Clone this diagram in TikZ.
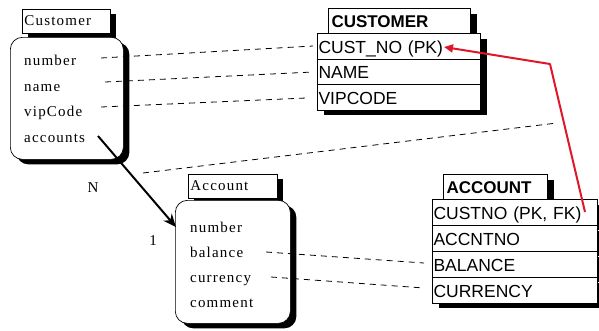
\documentclass[tikz,border=0pt]{standalone}
\usepackage{fontspec}
\setmainfont{Liberation Serif}
\newfontfamily\tabfont{Liberation Sans}
\newfontfamily\objfont[LetterSpace=8]{Liberation Serif}
\usetikzlibrary{arrows.meta,shadows}
\definecolor{fkred}{RGB}{222,24,40}
\tikzset{
  shd/.style={general shadow={fill=black, shadow xshift=6pt, shadow yshift=-5pt}},
  objtitle/.style={draw, fill=white, line width=0.8pt, anchor=north west, inner xsep=1.5pt,
    minimum height=24pt, font=\objfont\fontsize{15}{17}\selectfont, text height=11pt, text depth=3pt, shd},
  objbody/.style={draw, fill=white, line width=0.7pt, rounded corners=12pt, anchor=north west, shd},
  attr/.style={anchor=west, inner sep=0pt, text height=10pt, text depth=3pt, font=\objfont\fontsize{15}{17}\selectfont},
  tabtitle/.style={draw, fill=white, line width=1pt, anchor=north west, inner xsep=3pt,
    minimum height=25pt, font=\tabfont\bfseries\fontsize{17}{19}\selectfont, text height=13pt, text depth=1pt, shd},
  tabrow/.style={draw, fill=white, line width=1.1pt, anchor=north west, inner xsep=1pt,
    minimum height=25.5pt, font=\tabfont\fontsize{17.5}{19}\selectfont, text height=14pt, text depth=0pt, shd},
  dl/.style={line width=0.8pt, dash pattern=on 6pt off 5pt},
  lbl/.style={inner sep=0pt, font=\fontsize{15}{17}\selectfont},
}
\begin{document}
\begin{tikzpicture}[x=1pt,y=-1pt]
\useasboundingbox[fill=white] (0,0) rectangle (599,330);

% Customer object
\node[objtitle, minimum width=88pt, text width=84pt] (ctitle) at (22,9) {Customer};
\node[objbody, minimum width=113pt, minimum height=122pt] (cbody) at (10,37) {};
\node[attr] (cnum) at (24,62) {number};
\node[attr] (cname) at (24,88) {name};
\node[attr] (cvip) at (24,113) {vipCode};
\node[attr] (cacc) at (24,139) {accounts};

% Account object
\node[objtitle, minimum width=89pt, text width=85pt] (atitle) at (188,174) {Account};
\node[objbody, minimum width=115pt, minimum height=123pt] (abody) at (175,200) {};
\node[attr] (anum) at (190,229) {number};
\node[attr] (abal) at (190,254) {balance};
\node[attr] (acur) at (190,279) {currency};
\node[attr] (acom) at (190,304) {comment};

% CUSTOMER table
\node[tabtitle, minimum width=142pt, text width=136pt] (ttitle) at (328,8) {CUSTOMER};
\node[tabrow, minimum width=163pt, text width=161pt] (custno) at (317,33) {CUST\_NO (PK)};
\node[tabrow, minimum width=163pt, text width=161pt] (tname) at (317,58.5) {NAME};
\node[tabrow, minimum width=163pt, text width=161pt] (tvip) at (317,84) {VIPCODE};

% ACCOUNT table
\node[tabtitle, minimum width=104pt, text width=98pt] (atab) at (443,174) {ACCOUNT};
\node[tabrow, minimum width=165pt, text width=163pt] (custnofk) at (432,199) {CUSTNO (PK, FK)};
\node[tabrow, minimum width=165pt, text width=163pt] (accntno) at (432,225) {ACCNTNO};
\node[tabrow, minimum width=165pt, text width=163pt] (tbal) at (432,251) {BALANCE};
\node[tabrow, minimum width=165pt, text width=163pt] (tcur) at (432,277) {CURRENCY};

% labels
\node[lbl] (lN) at (93,188) {N};
\node[lbl] (l1) at (153,241) {1};

% free ends of connectors
\coordinate (cnumE) at (101,58);
\coordinate (cnameE) at (105,82);
\coordinate (cvipE) at (101,107);
\coordinate (custnoW) at (313,46);
\coordinate (tnameW) at (313,72);
\coordinate (tvipW) at (306,98);
\coordinate (abalE) at (266,252);
\coordinate (acurE) at (271,277);
\coordinate (tbalW) at (424,263);
\coordinate (tcurW) at (424,288);
\coordinate (accS) at (143,173);
\coordinate (accT) at (557,123);
\coordinate (accA) at (98,136);
\coordinate (accB) at (176,227);
\coordinate (fkS) at (585,212);
\coordinate (fkBend) at (550,64);
\coordinate (pkE) at (444,47);

% dashed mapping lines
\draw[dl] (cnumE) -- (custnoW);
\draw[dl] (cnameE) -- (tnameW);
\draw[dl] (cvipE) -- (tvipW);
\draw[dl] (abalE) -- (tbalW);
\draw[dl] (acurE) -- (tcurW);
\draw[dl] (accS) -- (accT);

% association arrow
\draw[line width=2pt, -{Stealth[length=13pt,width=11pt]}] (accA) -- (accB);

% foreign key arrow
\draw[fkred, line width=2pt, line join=round, -{Triangle[length=9pt,width=8pt]}] (fkS) -- (fkBend) -- (pkE);
\end{tikzpicture}
\end{document}
